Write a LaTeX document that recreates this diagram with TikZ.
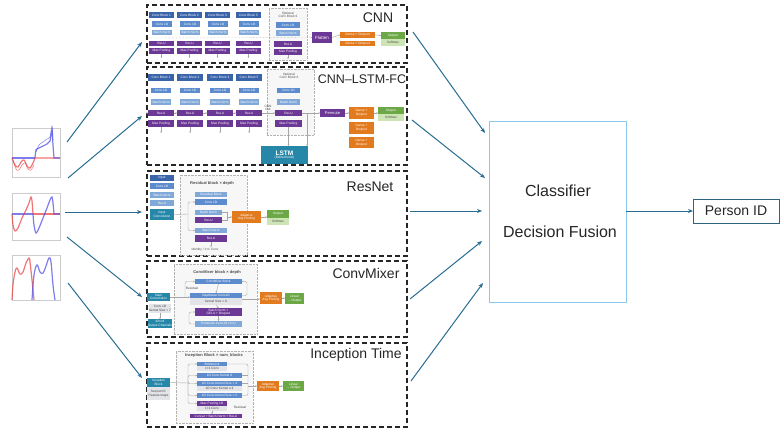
\documentclass[tikz,border=0pt]{standalone}
\usepackage{fontspec}
\setmainfont{Liberation Sans}
\usetikzlibrary{arrows.meta}
\definecolor{cblk}{RGB}{58,100,170}
\definecolor{cconv}{RGB}{92,140,205}
\definecolor{clight}{RGB}{128,168,216}
\definecolor{cpurp}{RGB}{108,56,150}
\definecolor{corg}{RGB}{226,122,30}
\definecolor{cgrn}{RGB}{108,168,70}
\definecolor{clgrn}{RGB}{205,228,180}
\definecolor{cteal}{RGB}{38,135,168}
\definecolor{carr}{RGB}{40,108,145}
\definecolor{cclf}{RGB}{140,200,235}
\definecolor{cpid}{RGB}{46,100,130}
\definecolor{cgray}{RGB}{226,228,232}
\definecolor{cplotr}{RGB}{235,60,60}
\definecolor{cplotb}{RGB}{70,70,230}
\newcommand\bx[7]{\node[bxs,#1,minimum width={(#4)-(#2)},minimum height={(#5)-(#3)}] (#7) at ({((#2)+(#4))/2},{((#3)+(#5))/2}) {#6};}
\begin{document}
\begin{tikzpicture}[x=1pt,y=-1pt,
  bxs/.style={rectangle,inner sep=0pt,outer sep=0pt,align=center,text=white,font=\fontsize{3.2}{3.6}\selectfont},
  blk/.style={fill=cblk},
  conv/.style={fill=cconv},
  lite/.style={fill=clight},
  purp/.style={fill=cpurp},
  orng/.style={fill=corg},
  grn/.style={fill=cgrn},
  lgrn/.style={fill=clgrn,text=black!70},
  tealb/.style={fill=cteal},
  grayb/.style={fill=cgray,text=black!75},
  dframe/.style={draw=gray!60,densely dotted,fill=gray!6},
  dbox/.style={draw=black!85,dash pattern=on 5pt off 3pt,line width=1.2pt},
  title/.style={font=\fontsize{14}{16}\selectfont,text=black!85,inner sep=0pt},
  small/.style={font=\fontsize{3.2}{3.6}\selectfont,text=black!70,align=center,inner sep=0pt},
  flab/.style={font=\bfseries\fontsize{4}{4.5}\selectfont,text=black!70,inner sep=0pt},
  farr/.style={-{Stealth[length=5pt,width=4pt]},line width=1pt,draw=carr},
  ln/.style={draw=gray!70,line width=0.4pt},
  la/.style={ln,-{Stealth[length=1.6pt,width=1.6pt]}},
  ctext/.style={font=\fontsize{16}{18}\selectfont,text=black!85,inner sep=0pt}
]
\fill[white] (0,0) rectangle (784,434);
\useasboundingbox (0,0) rectangle (784,434);

% ---------------- plots ----------------
\draw[gray!40,line width=0.3pt] (12,128) rectangle (60,177);
\draw[gray!40,line width=0.3pt] (12,193) rectangle (60,240);
\draw[gray!40,line width=0.3pt] (12,255) rectangle (60,300);
\begin{scope}[line width=1.2pt,opacity=0.7]
\draw[cplotb] (12,158) -- (35,158);
\draw[cplotr] plot[smooth,tension=0.6] coordinates {(12,158) (15,165) (18,167) (21,162) (24,160) (27,166) (30,168) (33,163) (35,158)} -- (60,158);
\draw[cplotr,line width=0.5pt] plot[smooth,tension=0.6] coordinates {(13,160) (16,169) (19,170) (22,165) (25,163) (28,169) (31,170) (34,165)};
\draw[cplotb] plot[smooth,tension=0.5] coordinates {(35,158) (36,150) (39,148) (43,146) (47,144) (50,141) (52,130) (53,145) (54,158)} -- (60,158);
\draw[cplotb,line width=0.5pt] plot[smooth,tension=0.5] coordinates {(36,152) (39,145) (43,142) (47,139) (50,137) (52,126) (53,140)};
\draw[cplotr] (33,214) -- (60,214);
\draw[cplotb] (12,214) -- (33,214);
\draw[cplotr] plot[smooth,tension=0.6] coordinates {(12,214) (13,225) (15,231) (18,228) (22,218) (26,210) (29,203) (31,197) (32,201) (33,214)};
\draw[cplotb] plot[smooth,tension=0.6] coordinates {(33,214) (34,225) (36,233) (39,228) (43,218) (47,208) (50,200) (52,197) (53,203) (54,214)} -- (60,214);
\draw[cplotr] plot[smooth,tension=0.6] coordinates {(12,300) (13,285) (15,272) (17,268) (20,274) (23,272) (26,263) (29,258) (30,262) (32,280) (34,300)};
\draw[cplotb] plot[smooth,tension=0.6] coordinates {(32,300) (34,275) (37,265) (40,272) (43,273) (46,266) (49,258) (51,262) (53,285) (55,300)};
\end{scope}

% ---------------- CNN ----------------
\bx{dbox}{147}{5}{407}{63}{}{cnnbox}
\node[title] (tcnn) at (378,18) {CNN};
\foreach \x/\k in {149/1,177/2,205/3,236/5} {
  \bx{blk}{\x}{12}{\x+25}{18}{Conv Block \k}{cnnh\k}
  \bx{conv}{\x+3}{21}{\x+23}{27}{Conv 1D}{cnnc\k}
  \bx{lite}{\x+3}{30}{\x+23}{35}{Batch Norm}{cnnb\k}
  \bx{purp}{\x}{41}{\x+25}{46}{ReLU}{cnnr\k}
  \bx{purp}{\x}{48}{\x+25}{54}{Max Pooling}{cnnm\k}
  \draw[la] (cnnm\k.south) -- ++(0,4);
}
\bx{dframe}{269}{8}{307}{60}{}{cnnopt}
\node[small] (cnnoptl) at (288,15) {Optional\\Conv Block 6};
\bx{conv}{276}{22}{300}{28}{Conv 1D}{cnnc6}
\bx{lite}{276}{30}{300}{36}{Batch Norm}{cnnb6}
\bx{purp}{274}{41}{302}{47}{ReLU}{cnnr6}
\bx{purp}{274}{49}{302}{55}{Max Pooling}{cnnm6}
\draw[la] (cnnm6.south) -- ++(0,4);
\bx{purp}{312}{32}{332}{43}{\fontsize{4.5}{5}\selectfont Flatten}{cnnflat}
\bx{orng}{340}{32}{375}{38}{Dense + Dropout}{cnnd1}
\bx{orng}{340}{41}{375}{46}{Dense + Dropout}{cnnd2}
\bx{grn}{381}{32}{405}{39}{Output}{cnno}
\bx{lgrn}{381}{39}{405}{46}{Softmax}{cnns}
\coordinate (cnnin) at (147,38);
\draw[la,densely dotted] (cnnin) -- (cnnflat.west);
\draw[la] (cnnflat.east) -- (cnnd1.west);
\draw[la] (cnnd1.east) -- (cnno.west);

% ---------------- CNN-LSTM ----------------
\bx{dbox}{147}{67}{407}{165}{}{lstmbox}
\node[title,font=\fontsize{12.5}{14}\selectfont] (tlstm) at (362,79) {CNN–LSTM-FC};
\bx{dframe}{267}{69}{314}{135}{}{lstmopt}
\node[small] (lstmoptl) at (289,76) {Optional\\Conv Block 6};
\foreach \x/\k in {148/1,177/3,207/4,236/5} {
  \bx{blk}{\x}{74}{\x+26}{81}{Conv Block \k}{lh\k}
  \bx{conv}{\x+3}{88}{\x+23}{93}{Conv 1D}{lc\k}
  \bx{lite}{\x+3}{99}{\x+23}{105}{Batch Norm}{lb\k}
  \bx{purp}{\x}{110}{\x+26}{116}{ReLU}{lr\k}
  \bx{purp}{\x}{120}{\x+26}{127}{Max Pooling}{lm\k}
  \draw[la] (lm\k.south) -- ++(0,6);
}
\bx{conv}{277}{88}{300}{93}{Conv 1D}{lc6}
\bx{lite}{277}{99}{300}{105}{Batch Norm}{lb6}
\bx{purp}{275}{110}{302}{116}{ReLU}{lr6}
\bx{purp}{275}{120}{302}{127}{Max Pooling}{lm6}
\node[small] (cnnout) at (268,108) {CNN\\Out};
\coordinate (lin) at (147,113);
\draw[la] (lin) -- (lr1.west);
\draw[la] (lr1.east) -- (lr3.west);
\draw[la] (lr3.east) -- (lr4.west);
\draw[la] (lr4.east) -- (lr5.west);
\draw[la] (lr5.east) -- (lr6.west);
\bx{purp}{320}{109}{345}{117}{\fontsize{4}{4.5}\selectfont Permute}{lperm}
\draw[la] (lr6.east) -- (lperm.west);
\bx{tealb}{261}{146}{308}{164}{{\fontsize{6.5}{7}\selectfont\bfseries LSTM}\\(Bidirectional)}{llstm}
\draw[la] (lm6.south) -- (lm6.south |- llstm.north);
\coordinate (ltap) at (307,113);
\draw[la] (ltap) -- (ltap |- llstm.north);
\bx{orng}{349}{107}{374}{119}{Dense +\\Dropout}{ld1}
\bx{orng}{349}{122}{374}{134}{Dense +\\Dropout}{ld2}
\bx{orng}{349}{137}{374}{148}{Dense +\\Dropout}{ld3}
\draw[la] (lperm.east) -- (ld1.west);
\bx{grn}{378}{107}{404}{114}{Output}{lo}
\bx{lgrn}{378}{114}{404}{121}{Softmax}{ls}
\draw[la] (ld1.east) -- (ld1.east -| lo.west);

% ---------------- ResNet ----------------
\bx{dbox}{147}{171}{407}{256}{}{resbox}
\node[title] (tres) at (370,187) {ResNet};
\bx{blk}{150}{175}{174}{181}{Input}{rin}
\bx{conv}{150}{183}{174}{189}{Conv 1D}{rc}
\bx{lite}{150}{192}{174}{198}{Batch Norm}{rb}
\bx{lite}{150}{200}{174}{206}{ReLU}{rr}
\bx{tealb}{150}{209}{174}{220}{Input\\Convolution}{ric}
\bx{dframe}{180}{175}{247}{255}{}{rframe}
\node[flab] (rlab) at (212,183) {Residual block × depth};
\bx{lite}{195}{192}{227}{197}{Residual Block}{rrb}
\bx{conv}{195}{199}{227}{205}{Conv 1D}{rrc}
\bx{lite}{195}{210}{222}{215}{Batch Norm}{rrb1}
\bx{purp}{195}{217}{222}{223}{ReLU}{rrr1}
\bx{lite}{195}{228}{227}{233}{Batch Norm}{rrb2}
\bx{purp}{195}{235}{227}{242}{ReLU}{rrr2}
\node[small] (rid) at (205,250) {Identity / 1×1 Conv};
\draw[la] (rrr2.south) -- ++(0,5);
\coordinate (rbr) at (188,214);
\draw[ln] (ric.east) -- (rbr);
\draw[la,rounded corners=2pt] (rbr) |- (rrc.west);
\draw[la,rounded corners=2pt] (rbr) |- (rrb2.west);
\draw[ln] (rrb1.east) -- ++(5,0) |- (rrr1.east);
\bx{orng}{232}{211}{261}{223}{Adaptive\\Avg Pooling}{rap}
\coordinate (rbr2) at (227,217);
\draw[la] (rbr2) -- (rap.west);
\bx{grn}{267}{210}{289}{218}{Output}{ro}
\bx{lgrn}{267}{218}{289}{225}{Softmax}{rs}
\draw[la] (rap.east) -- (rap.east -| ro.west);

% ---------------- ConvMixer ----------------
\bx{dbox}{147}{261}{407}{337}{}{cmbox}
\node[title] (tcm) at (366,273) {ConvMixer};
\bx{dframe}{174}{264}{257}{334}{}{cmframe}
\node[flab] (cmlab) at (217,272) {ConvMixer block × depth};
\bx{tealb}{147}{293}{170}{301}{Stem\\Convolution}{cmstem}
\bx{grayb}{150}{304}{170}{313}{Conv 1D\\Kernel Size = 7}{cmc}
\bx{tealb}{150}{319}{170}{328}{dim×8\\Output Channels}{cmdim}
\draw[la] (cmc.south) -- (cmdim.north);
\bx{conv}{195}{279}{242}{284}{ConvMixer Block}{cmb}
\node[small] (cmres) at (192,288) {Residual};
\bx{conv}{190}{293}{242}{298}{Depthwise Conv1D}{cmdw}
\bx{grayb}{190}{298}{242}{305}{Kernel Size = 8}{cmk}
\bx{purp}{195}{308}{242}{316}{Batch Norm +\\GELU + Dropout}{cmbn}
\bx{lite}{195}{321}{242}{327}{Pointwise Conv1D (1×1)}{cmpw}
\draw[la] (cmstem.east) -- (cmdw.west |- cmstem.east);
\draw[la] (cmb.south) -- (cmdw.north);
\draw[la] (cmk.south) -- (cmbn.north);
\draw[la] (cmbn.south) -- (cmpw.north);
\draw[la,rounded corners=2pt] (cmdw.east) -- ++(5,0) |- (cmb.east);
\coordinate (cmlt) at (185,297);
\draw[la,rounded corners=2pt] (cmlt) |- (cmb.west);
\draw[la,rounded corners=2pt] (cmpw.west) -- ++(-6,0) |- (cmbn.west);
\bx{orng}{260}{292}{282}{304}{Adaptive\\Avg Pooling}{cmap}
\bx{grn}{285}{293}{304}{304}{Linear\\→ Output}{cmlin}
\coordinate (cmo) at (242,299);
\draw[la] (cmo) -- (cmo -| cmap.west);
\draw[la] (cmap.east) -- (cmap.east -| cmlin.west);

% ---------------- Inception ----------------
\bx{dbox}{147}{343}{407}{427}{}{inbox}
\node[title] (tin) at (356,355) {Inception Time};
\bx{dframe}{176}{351}{253}{423}{}{inframe}
\node[flab] (inlab) at (214,355) {Inception Block × num\_blocks};
\bx{tealb}{147}{378}{170}{387}{Inception\\Block}{inblk}
\bx{grayb}{147}{387}{170}{400}{Seq len×C\\Feature maps}{infm}
\bx{conv}{197}{362}{227}{366}{Bottleneck}{inbn}
\bx{grayb}{197}{366}{227}{371}{1×1 Conv}{inbc}
\bx{conv}{197}{373}{242}{378}{1D Conv Kernel 8}{ink8}
\bx{conv}{197}{381}{242}{386}{1D Conv Kernel Size = 4}{ink4}
\bx{grayb}{197}{386}{242}{391}{1D Conv Kernel ≥ 4}{ink4b}
\bx{conv}{197}{393}{242}{398}{1D Conv Kernel Size = 2}{ink2}
\bx{purp}{197}{401}{227}{406}{Max Pooling 1D}{inmp}
\bx{grayb}{197}{406}{227}{411}{1×1 Conv}{inmc}
\node[small] (inres) at (240,407) {Residual};
\bx{purp}{190}{414}{242}{418}{Concat + Batch Norm + ReLU}{incat}
\coordinate (inl) at (188,383);
\draw[ln] (inblk.east) -- (inl);
\foreach \t in {inbn,ink8,ink4,ink2,inmp} {\draw[la,rounded corners=2pt] (inl) |- (\t.west);}
\coordinate (inr) at (248,386);
\draw[ln,rounded corners=2pt] (inbn.east) -| (inr);
\draw[ln,rounded corners=2pt] (ink2.east) -| (inr);
\draw[ln] (ink8.east) -- (ink8.east -| inr);
\draw[ln] (ink4.east) -- (ink4.east -| inr);
\draw[la] (inmc.south) -- (inmc.south |- incat.north);
\bx{orng}{257}{381}{279}{391}{Adaptive\\Avg Pooling}{inap}
\bx{grn}{283}{381}{304}{391}{Linear\\→ Output}{inlin}
\draw[la] (inr) -- (inr -| inap.west);
\draw[la] (inap.east) -- (inlin.west);

% ---------------- classifier ----------------
\bx{draw=cclf,line width=1pt}{489}{121}{626}{302}{}{clf}
\node[ctext] (clf1) at (558,191) {Classifier};
\node[ctext] (clf2) at (560,232) {Decision Fusion};
\bx{draw=cpid,line width=1pt,text=black!85,font=\fontsize{14}{16}\selectfont}{693}{199}{779}{223}{Person ID}{pid}
\draw[farr] (clf.east |- pid.west) -- (pid.west);

% ---------------- connectors ----------------
\coordinate (p1) at (67,142); \coordinate (q1) at (142,42);
\coordinate (p2) at (68,178); \coordinate (q2) at (142,116);
\coordinate (p3) at (65,212); \coordinate (q3) at (142,212);
\coordinate (p4) at (67,237); \coordinate (q4) at (142,297);
\coordinate (p5) at (68,283); \coordinate (q5) at (142,378);
\foreach \i in {1,...,5} {\draw[farr] (p\i) -- (q\i);}
\coordinate (s1) at (413,32);  \coordinate (t1) at (485,133);
\coordinate (s2) at (412,120); \coordinate (t2) at (485,178);
\coordinate (s3) at (410,211); \coordinate (t3) at (482,211);
\coordinate (s4) at (410,299); \coordinate (t4) at (482,241);
\coordinate (s5) at (411,381); \coordinate (t5) at (483,283);
\foreach \i in {1,...,5} {\draw[farr] (s\i) -- (t\i);}
\end{tikzpicture}
\end{document}
